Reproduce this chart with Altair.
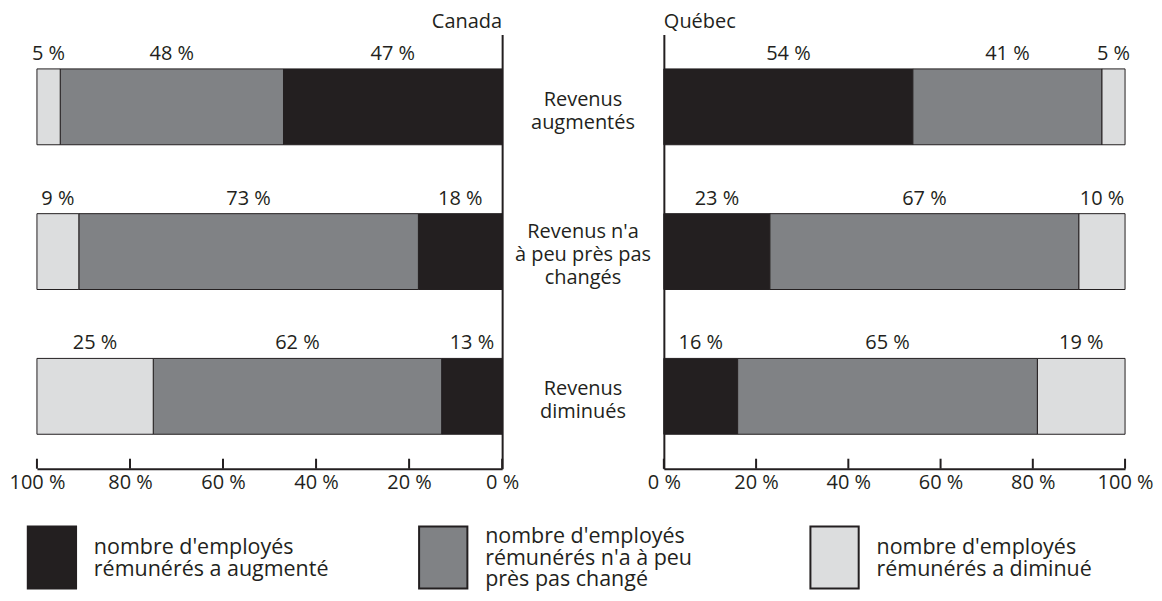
import altair as alt
import pandas as pd

# ---- data ----
rows = ["Revenus augmentés", "Revenus n'a à peu près pas changés", "Revenus diminués"]
row_labels = ["Revenus\naugmentés", "Revenus n'a\nà peu près pas\nchangés", "Revenus\ndiminués"]
series = [
    "nombre d'employés rémunérés a augmenté",
    "nombre d'employés rémunérés n'a à peu près pas changé",
    "nombre d'employés rémunérés a diminué",
]
legend_labels = [
    "nombre d'employés\nrémunérés a augmenté",
    "nombre d'employés\nrémunérés n'a à peu\nprès pas changé",
    "nombre d'employés\nrémunérés a diminué",
]
canada_aug = [47, 18, 13]
canada_same = [48, 73, 62]
canada_dim = [5, 9, 25]
quebec_aug = [54, 23, 16]
quebec_same = [41, 67, 65]
quebec_dim = [5, 10, 19]
tick_values = [0, 20, 40, 60, 80, 100]

# ---- style ----
INK = "#231f20"
colors = ["#231f20", "#808285", "#dcddde"]
FONT = "Open Sans"
FS = 20
LFS = 21.5
LH = 23
LLH = 22
H = 435


def make_df(aug, same, dim):
    recs = []
    for i, r in enumerate(rows):
        for k, vals in enumerate([aug, same, dim]):
            recs.append({"row": r, "series": series[k], "order": k, "value": vals[i]})
    return pd.DataFrame(recs)


color_scale = alt.Scale(domain=series, range=colors)
band = alt.Scale(paddingInner=0.476, paddingOuter=0.238)


def panel(df, reverse, width, title_text, anchor, y_orient):
    base = alt.Chart(df).transform_stack(
        stack="value", groupby=["row"], as_=["v0", "v1"],
        sort=[alt.SortField("order", "ascending")],
    ).transform_calculate(mid="(datum.v0 + datum.v1) / 2", lbl="datum.value + ' %'")
    xscale = alt.Scale(domain=[0, 100], reverse=reverse, nice=False)
    bars = base.mark_bar(stroke=INK, strokeWidth=1).encode(
        x=alt.X("v0:Q", scale=xscale,
                axis=alt.Axis(values=tick_values, labelExpr="datum.value + ' %'", ticks=False,
                              grid=False, domainColor=INK, domainWidth=2, title=None,
                              labelPadding=4, labelFontSize=FS, labelColor=INK, labelFont=FONT,
                              labelFlush=False, labelOverlap=False)),
        x2="v1:Q",
        y=alt.Y("row:N", sort=rows, scale=band,
                axis=alt.Axis(orient=y_orient, labels=False, ticks=False, title=None,
                              domain=True, domainColor=INK, domainWidth=2)),
        color=alt.Color("series:N", scale=color_scale, legend=None),
    )
    labels = base.mark_text(baseline="alphabetic", dy=-9, fontSize=FS, color=INK, font=FONT).encode(
        x=alt.X("mid:Q", scale=xscale),
        y=alt.Y("row:N", sort=rows, bandPosition=0),
        text="lbl:N",
    )
    ticks = alt.Chart(pd.DataFrame({"t": tick_values})).mark_rule(strokeWidth=2, color=INK).encode(
        x=alt.X("t:Q", scale=xscale),
        y=alt.value(H - 10),
        y2=alt.value(H),
    )
    return alt.layer(bars, labels, ticks).properties(
        width=width, height=H,
        title=alt.TitleParams(title_text, anchor=anchor, frame="group", fontSize=FS,
                              fontWeight="normal", offset=2, color=INK, font=FONT),
    )


canada = panel(make_df(canada_aug, canada_same, canada_dim), True, 466, "Canada", "end", "right")
quebec = panel(make_df(quebec_aug, quebec_same, quebec_dim), False, 462, "Québec", "start", "left")

mid_df = pd.DataFrame({"row": rows, "label": row_labels})
mid_base = alt.Chart(mid_df).transform_calculate(
    nl="length(split(datum.label, '\\n'))"
)
mid_y = alt.Y("row:N", sort=rows, scale=band, axis=None)
mid2 = mid_base.transform_filter("datum.nl == 2").mark_text(
    fontSize=FS, lineHeight=LH, lineBreak="\n", color=INK, font=FONT, baseline="middle", dy=-7
).encode(y=mid_y, text="label:N")
mid3 = mid_base.transform_filter("datum.nl == 3").mark_text(
    fontSize=FS, lineHeight=LH, lineBreak="\n", color=INK, font=FONT, baseline="middle", dy=-20
).encode(y=mid_y, text="label:N")
middle = alt.layer(mid2, mid3).properties(width=162, height=H)

leg_df = pd.DataFrame({"series": series, "label": legend_labels})
leg_base = alt.Chart(leg_df).transform_calculate(nl="length(split(datum.label, '\\n'))")
leg_x = alt.X("series:N", sort=series, scale=alt.Scale(type="point", padding=0),
              axis=alt.Axis(orient="top", labels=False, ticks=False, title=None,
                            domainOpacity=0, grid=False))
squares = leg_base.mark_point(
    shape="M-0.78,-1H0.78V1H-0.78Z", size=62 * 62, filled=True, stroke=INK, strokeWidth=2,
    opacity=1, xOffset=15,
).encode(
    x=leg_x,
    color=alt.Color("series:N", scale=color_scale, legend=None),
)
leg2 = leg_base.transform_filter("datum.nl == 2").mark_text(
    align="left", baseline="middle", fontSize=LFS, lineHeight=LLH, lineBreak="\n",
    color=INK, font=FONT, xOffset=57, dy=-10,
).encode(x=leg_x, text="label:N")
leg3 = leg_base.transform_filter("datum.nl == 3").mark_text(
    align="left", baseline="middle", fontSize=LFS, lineHeight=LLH, lineBreak="\n",
    color=INK, font=FONT, xOffset=57, dy=-21,
).encode(x=leg_x, text="label:N")
legend = alt.layer(squares, leg2, leg3).properties(width=784, height=62)

top = alt.hconcat(canada, middle, quebec, spacing=0, bounds="flush")
chart = alt.vconcat(top, legend, spacing=30).properties(
    padding={"left": 0, "top": 4, "right": 0, "bottom": 0}
).configure(font=FONT).configure_view(stroke="transparent", strokeWidth=0)

chart.save("out.html", embed_options={"renderer": "svg", "actions": False})
